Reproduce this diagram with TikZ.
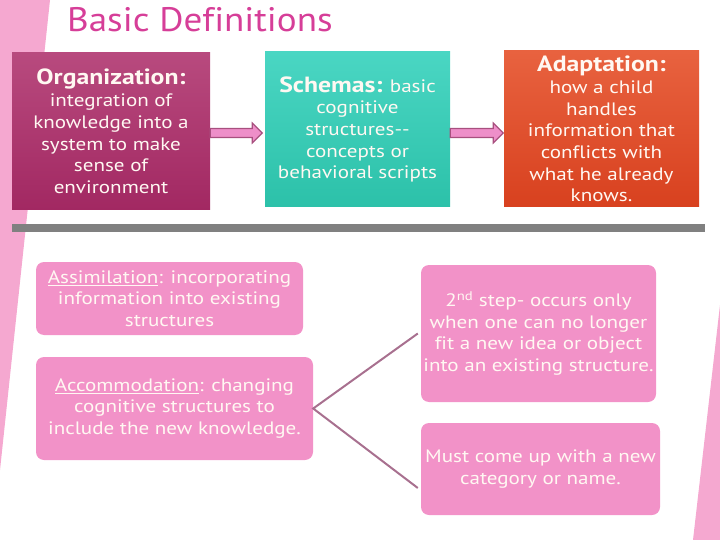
\documentclass[tikz,border=0pt]{standalone}
\usepackage{fontspec}
\setmainfont{PT Sans}[FakeStretch=1.17,Ligatures=NoCommon]
\newfontfamily\titlefont{PT Sans}[FakeStretch=1.09,Ligatures=NoCommon]
\usetikzlibrary{calc}
\definecolor{bgpink}{HTML}{F5A8D0}
\definecolor{titlepink}{HTML}{D63E98}
\definecolor{boxpink}{HTML}{F292C8}
\definecolor{orgtop}{HTML}{B84A7E}
\definecolor{orgbot}{HTML}{A22862}
\definecolor{schtop}{HTML}{4AD6C3}
\definecolor{schbot}{HTML}{2CC1A9}
\definecolor{adatop}{HTML}{E8623F}
\definecolor{adabot}{HTML}{D8411F}
\definecolor{barfill}{HTML}{EE8FC9}
\definecolor{baredge}{HTML}{A8507F}
\definecolor{conncol}{HTML}{A8708F}
\definecolor{bargray}{HTML}{808080}
\definecolor{txtwhite}{HTML}{FFF8F2}
\tikzset{
  topbox/.style={inner sep=2pt, align=center, text=txtwhite,
    font=\fontsize{18}{21.7}\selectfont},
  lowbox/.style={fill=boxpink, rounded corners=8pt, inner sep=2pt, align=center,
    text=txtwhite, font=\fontsize{18}{21.7}\selectfont},
  barrow/.style={fill=barfill, draw=baredge, line width=1.2pt, line join=miter},
  conn/.style={draw=conncol, line width=2pt}
}
\newcommand{\hdtext}[1]{{\fontsize{22}{24}\selectfont\bfseries #1}}
\begin{document}
\begin{tikzpicture}[x=1pt,y=-1pt]
\useasboundingbox (0,0) rectangle (720,540);
% background shapes
\fill[bgpink] (0,0) -- (50,0) -- (0,470) -- cycle;
\fill[bgpink] (720,305) -- (720,540) -- (693,540) -- cycle;
% title
\node[anchor=base west, inner sep=0, text=titlepink,
  font=\titlefont\fontsize{34}{40}\selectfont] (title) at (67,32) {Basic Definitions};
% gray bar
\fill[bargray] (12,224) rectangle (705,232);
% top boxes
\node[topbox, top color=orgtop, bottom color=orgbot,
  minimum width=198, minimum height=157] (org) at (111,131.5)
  {\hdtext{Organization:}\\integration of\\knowledge into a\\system to make\\sense of\\environment};
\node[topbox, top color=schtop, bottom color=schbot,
  minimum width=185, minimum height=155] (sch) at (357.5,129.5)
  {\hdtext{Schemas:} basic\\cognitive\\structures-{}-\\concepts or\\behavioral scripts};
\node[topbox, top color=adatop, bottom color=adabot,
  minimum width=195, minimum height=156] (ada) at (601.5,129)
  {\hdtext{Adaptation:}\\how a child\\handles\\information that\\conflicts with\\what he already\\knows.};
% block arrows
\coordinate (ay) at (0,133);
\draw[barrow] ($(org.east|-ay)+(0,-4.5)$) -- ++(42,0) -- ++(0,-5.5) -- ++(10,10)
  -- ++(-10,10) -- ++(0,-5.5) -- ++(-42,0) -- cycle;
\draw[barrow] ($(sch.east|-ay)+(0,-4.5)$) -- ++(43,0) -- ++(0,-5.5) -- ++(10,10)
  -- ++(-10,10) -- ++(0,-5.5) -- ++(-43,0) -- cycle;
% lower boxes
\node[lowbox, minimum width=267, minimum height=73] (asm) at (169.5,298.5)
  {\underline{Assimilation}: incorporating\\information into existing\\structures};
\node[lowbox, minimum width=277, minimum height=103] (acc) at (174.5,408.5)
  {\underline{Accommodation}: changing\\cognitive structures to\\include the new knowledge.};
\node[lowbox, minimum width=235, minimum height=137] (st2) at (538.5,333.5)
  {2\textsuperscript{nd} step- occurs only\\when one can no longer\\fit a new idea or object\\into an existing structure.};
\node[lowbox, minimum width=239, minimum height=92] (must) at (540.5,469)
  {Must come up with a new\\category or name.};
% connectors
\draw[conn] ($(st2.west)+(-3,0)$) -- (acc.east) -- ($(must.west)+(-3,19)$);
\end{tikzpicture}
\end{document}
